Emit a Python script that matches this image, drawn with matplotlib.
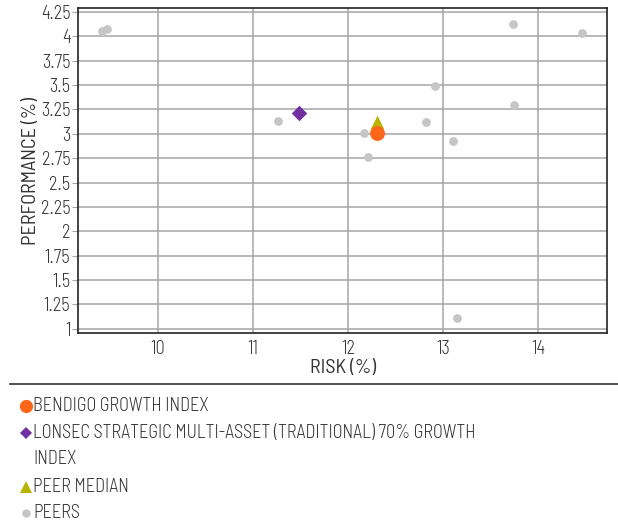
import matplotlib
matplotlib.use("Agg")
import matplotlib.pyplot as plt
from matplotlib.lines import Line2D
from matplotlib.ticker import FuncFormatter

plt.rcParams['font.family'] = ['Barlow Semi Condensed', 'DejaVu Sans']
plt.rcParams['font.weight'] = 300

# data
peers_risk = [9.41, 9.46, 11.26, 12.17, 12.21, 12.82, 12.91, 13.10, 13.14, 13.73, 13.74, 14.46]
peers_perf = [4.05, 4.08, 3.13, 3.01, 2.76, 3.12, 3.49, 2.93, 1.11, 4.13, 3.30, 4.03]
index_risk = [11.48]
index_perf = [3.21]
median_risk = [12.30]
median_perf = [3.12]
bendigo_risk = [12.30]
bendigo_perf = [3.01]

x_ticks = [10, 11, 12, 13, 14]
y_ticks = [1, 1.25, 1.5, 1.75, 2, 2.25, 2.5, 2.75, 3, 3.25, 3.5, 3.75, 4, 4.25]

legend_labels = ["BENDIGO GROWTH INDEX",
                 "LONSEC STRATEGIC MULTI-ASSET (TRADITIONAL) 70% GROWTH\nINDEX",
                 "PEER MEDIAN",
                 "PEERS"]

txt = '#333333'
c_orange = '#ff6619'
c_purple = '#7030a0'
c_olive = '#b8b400'
c_gray = '#c6c6c6'
fs = 13.2

fig = plt.figure(figsize=(6.18, 5.24), dpi=100)
ax = fig.add_axes([78/618, 1-333.3/524, (607-78)/618, (333.3-8.3)/524])

ax.scatter(peers_risk, peers_perf, s=40, color=c_gray, zorder=3, linewidths=0)
ax.scatter(index_risk, index_perf, s=62, marker='D', color=c_purple, zorder=4, linewidths=0)
ax.scatter(median_risk, median_perf, s=95, marker='^', color=c_olive, zorder=4, linewidths=0)
ax.scatter(bendigo_risk, bendigo_perf, s=115, color=c_orange, zorder=5, linewidths=0)

ax.set_xlim(9.16, 14.72)
ax.set_ylim(0.953, 4.288)
ax.set_xticks(x_ticks)
ax.set_yticks(y_ticks)
ax.yaxis.set_major_formatter(FuncFormatter(lambda v, p: '%g' % v))
ax.grid(True, color='#a6a6a6', linewidth=1.1)
ax.set_axisbelow(True)
for s in ax.spines.values():
    s.set_color('#222222')
    s.set_linewidth(1.2)
ax.tick_params(axis='both', labelsize=fs, colors=txt, color='#a6a6a6')
ax.tick_params(axis='y', length=4, pad=1.5)
ax.tick_params(axis='x', length=0, pad=5)
ax.set_xlabel("RISK (%)", fontsize=14.5, color=txt)
ax.set_ylabel("PERFORMANCE (%)", fontsize=14.5, color=txt, va='center')
ax.yaxis.set_label_coords(-47/529, 0.5)
ax.xaxis.set_label_coords(0.5, -26/325)

# separator line above legend
fig.add_artist(Line2D([10/618, 1.0], [1-384/524]*2, color='#333333', linewidth=1.2))

# legend drawn by hand so the marker sits on the first line
entries = [(legend_labels[0], 'o', c_orange, 9.5, 406),
           (legend_labels[1], 'D', c_purple, 6.5, 433),
           (legend_labels[2], '^', c_olive, 9, 487),
           (legend_labels[3], 'o', c_gray, 6, 513)]
for label, mk, col, ms, ypx in entries:
    fig.add_artist(Line2D([26/618], [1-ypx/524], marker=mk, color=col,
                          markersize=ms, markeredgewidth=0, linestyle='none'))
    fig.text(33/618, 1-(ypx-9)/524, label, fontsize=fs, color=txt,
             va='top', ha='left', linespacing=1.55)

fig.savefig("out.png", dpi=100)
